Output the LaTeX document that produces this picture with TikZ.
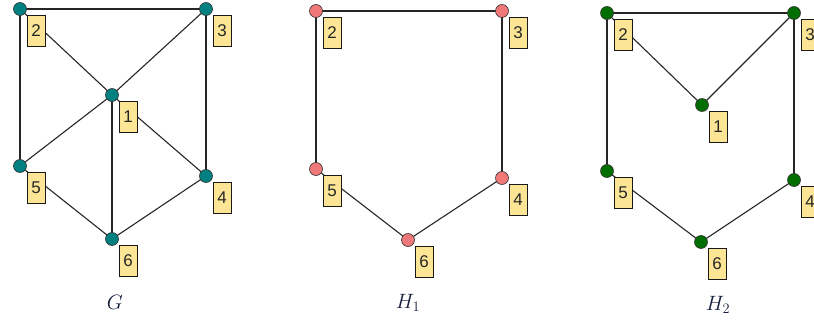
\documentclass[tikz,border=0pt]{standalone}
\usepackage{fontspec}
\setsansfont{Liberation Sans}
\definecolor{tealv}{RGB}{0,128,128}
\definecolor{pinkv}{RGB}{240,120,120}
\definecolor{greenv}{RGB}{0,110,0}
\definecolor{boxfill}{RGB}{252,230,150}
\definecolor{capcol}{RGB}{20,30,60}
\tikzset{
  vtx/.style={circle, draw=black!80, line width=0.6pt, minimum size=13pt, inner sep=0pt},
  lbl/.style={draw=black!90, fill=boxfill, line width=0.9pt, minimum width=18pt, minimum height=31pt, inner sep=0pt, font=\sffamily\fontsize{17}{17}\selectfont, text=black!85},
  conn/.style={draw=black!85, line width=1.1pt},
  captxt/.style={text=capcol, font=\fontsize{22}{22}\selectfont}
}
\begin{document}
\begin{tikzpicture}[x=1pt, y=-1pt]
\useasboundingbox (0,0) rectangle (814,329);
% ---------- G ----------
\foreach \n/\xx/\yy in {1/112/95, 2/20/9, 3/206/9, 4/206/176, 5/20/166, 6/112/239}
  \coordinate (g\n) at (\xx,\yy);
\foreach \a/\b in {2/3, 2/5, 3/4, 2/1, 3/1, 1/5, 1/4, 1/6, 5/6, 4/6}
  \draw[conn] (g\a) -- (g\b);
\foreach \n in {1,...,6} {
  \node[vtx, fill=tealv] (gv\n) at (g\n) {};
  \node[lbl] (gl\n) at ([shift={(16,22)}]g\n) {\n};
}
\node[captxt] (gcap) at (115,302) {$G$};
% ---------- H1 ----------
\foreach \n/\xx/\yy in {2/316/11, 3/502/11, 4/502/178, 5/316/169, 6/408/240}
  \coordinate (a\n) at (\xx,\yy);
\foreach \a/\b in {2/3, 2/5, 3/4, 5/6, 4/6}
  \draw[conn] (a\a) -- (a\b);
\foreach \n in {2,...,6} {
  \node[vtx, fill=pinkv] (av\n) at (a\n) {};
  \node[lbl] (al\n) at ([shift={(16,22)}]a\n) {\n};
}
\node[captxt] (acap) at (408,303) {$H_1$};
% ---------- H2 ----------
\foreach \n/\xx/\yy in {1/702/105, 2/607/13, 3/794/13, 4/794/180, 5/607/171, 6/701/242}
  \coordinate (b\n) at (\xx,\yy);
\foreach \a/\b in {2/3, 2/5, 3/4, 2/1, 3/1, 5/6, 4/6}
  \draw[conn] (b\a) -- (b\b);
\foreach \n in {1,...,6} {
  \node[vtx, fill=greenv] (bv\n) at (b\n) {};
  \node[lbl] (bl\n) at ([shift={(16,22)}]b\n) {\n};
}
\node[captxt] (bcap) at (718,305) {$H_2$};
\end{tikzpicture}
\end{document}
